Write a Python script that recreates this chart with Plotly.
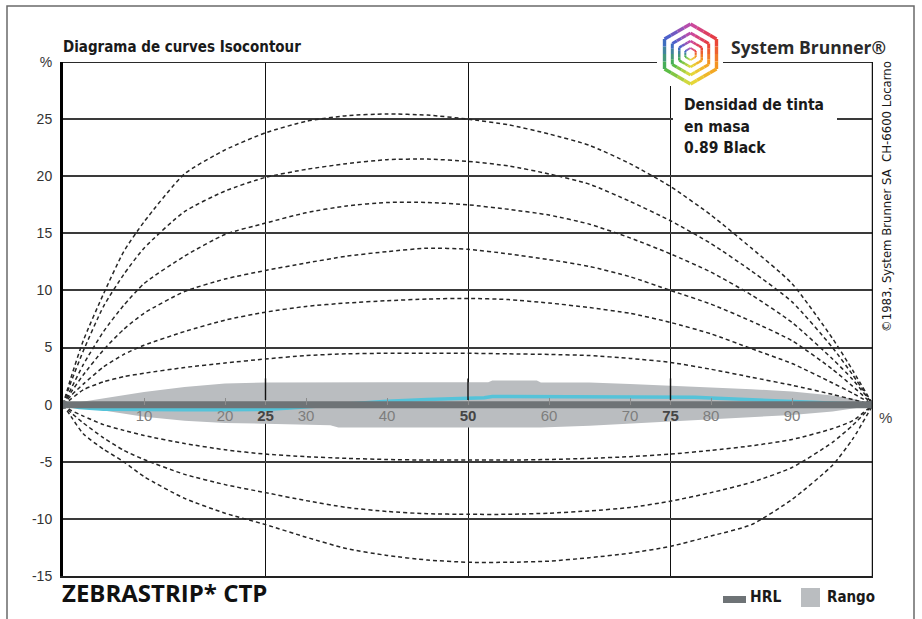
import math
import plotly.graph_objects as go

# ---------------- data ----------------
# Isocontour curves (deviation in % over tone value 0..100 %)
iso_x = [0, 1, 2.5, 5, 7.5, 10, 15, 20, 25, 30, 35, 40, 45, 50, 55, 60, 65, 70, 75, 80, 85, 90, 95, 97.5, 100]

iso_pos_a = [0, 2.4, 5.6, 9.7, 13.4, 16.0, 20.2, 22.3, 23.8, 24.8, 25.3, 25.45, 25.35, 25.0, 24.5, 23.7, 22.7, 21.1, 19.1, 16.6, 13.7, 10.6, 5.8, 3.0, 0]
iso_pos_b = [0, 2.0, 4.7, 8.6, 11.4, 13.7, 16.9, 18.7, 19.9, 20.6, 21.1, 21.45, 21.5, 21.3, 20.9, 20.2, 19.3, 17.8, 16.1, 14.1, 11.7, 9.0, 5.0, 2.6, 0]
iso_pos_c = [0, 1.4, 3.5, 6.4, 8.7, 10.6, 13.0, 14.9, 15.9, 16.8, 17.4, 17.7, 17.7, 17.5, 17.1, 16.6, 15.8, 14.6, 13.2, 11.6, 9.6, 7.2, 4.0, 2.2, 0]
iso_pos_d = [0, 1.1, 2.6, 4.8, 6.6, 8.0, 9.9, 11.0, 11.75, 12.4, 13.0, 13.4, 13.7, 13.6, 13.2, 12.7, 12.1, 11.2, 10.0, 8.8, 7.3, 5.6, 3.1, 1.6, 0]
iso_pos_e = [0, 0.8, 1.8, 3.3, 4.4, 5.2, 6.4, 7.4, 8.1, 8.6, 8.9, 9.1, 9.25, 9.3, 9.2, 8.9, 8.5, 8.0, 7.2, 6.2, 4.9, 3.6, 1.9, 1.0, 0]
iso_pos_f = [0, 0.5, 1.3, 2.0, 2.45, 2.75, 3.25, 3.65, 4.0, 4.3, 4.45, 4.5, 4.5, 4.5, 4.45, 4.4, 4.3, 4.05, 3.7, 3.1, 2.4, 1.7, 0.9, 0.45, 0]
iso_neg_a = [0, -0.5, -1.0, -1.75, -2.25, -2.7, -3.4, -3.95, -4.33, -4.55, -4.7, -4.8, -4.85, -4.85, -4.85, -4.8, -4.7, -4.55, -4.33, -4.0, -3.6, -3.05, -2.1, -1.4, 0]
iso_neg_b = [0, -0.7, -1.6, -2.9, -4.0, -4.8, -6.1, -7.0, -7.7, -8.4, -9.0, -9.35, -9.55, -9.6, -9.6, -9.5, -9.3, -9.0, -8.45, -7.7, -6.8, -5.5, -3.3, -1.8, 0]
iso_neg_c = [0, -1.05, -2.55, -3.9, -5.0, -6.3, -8.2, -9.5, -10.5, -11.6, -12.6, -13.2, -13.6, -13.8, -13.8, -13.7, -13.4, -13.0, -12.4, -11.5, -10.5, -8.3, -5.3, -3.0, 0]

# Tolerance range (Rango)
rango_x = [0, 5, 10, 15, 20, 25, 30, 33, 34, 40, 50, 52.5, 53, 58.5, 59, 65, 70, 75, 80, 85, 90, 95, 98, 100]
rango_hi = [0, 0.55, 1.1, 1.55, 1.85, 1.95, 1.97, 1.97, 1.97, 1.97, 1.97, 1.97, 2.12, 2.12, 1.95, 1.93, 1.8, 1.67, 1.5, 1.35, 1.15, 0.8, 0.45, 0]
rango_lo = [0, -0.5, -1.05, -1.4, -1.6, -1.7, -1.75, -1.8, -2.0, -2.0, -2.0, -2.0, -2.0, -2.0, -2.0, -1.85, -1.65, -1.45, -1.3, -1.1, -0.9, -0.6, -0.3, 0]

# Reference line (HRL)
hrl_x = [0, 100]
hrl_y = [0, 0]

# Measured curve
tvi_x = [0, 2, 5, 10, 15, 20, 25, 28, 30, 33, 36, 40, 45, 50, 52, 53, 60, 70, 75, 78, 80, 85, 90, 95, 100]
tvi_y = [0, -0.25, -0.4, -0.45, -0.45, -0.45, -0.42, -0.3, -0.2, 0.0, 0.15, 0.3, 0.45, 0.55, 0.6, 0.72, 0.72, 0.72, 0.72, 0.65, 0.58, 0.42, 0.28, 0.14, 0]

# Axis ticks
x_grid_vals = [25, 50, 75]
x_label_vals = [10, 20, 25, 30, 40, 50, 60, 70, 75, 80, 90]
y_tick_vals = [-15, -10, -5, 0, 5, 10, 15, 20, 25, 30]
y_tick_text = ["-15", "-10", "-5", "0", "5", "10", "15", "20", "25", "%"]

# Density note lines
note_lines = ["Densidad de tinta", "en masa", "0.89 Black"]

# ---------------- geometry helpers (pixel -> paper) ----------------
W, H = 922, 619
PL, PR, PT, PB = 63, 873, 62, 576


def px(X):
    return (X - PL) / (PR - PL)


def py(Y):
    return (PB - Y) / (PB - PT)


NARROW = "Liberation Sans Narrow, DejaVu Sans Condensed, Roboto, sans-serif"
REGULAR = "Liberation Sans, Arial, sans-serif"

fig = go.Figure()

# Tolerance band
fig.add_trace(go.Scatter(
    x=rango_x + rango_x[::-1], y=rango_hi + rango_lo[::-1],
    fill="toself", fillcolor="#babdc0", mode="lines", line=dict(width=0),
    hoverinfo="skip", name="Rango"))

# Isocontour curves
for curve in [iso_pos_a, iso_pos_b, iso_pos_c, iso_pos_d, iso_pos_e, iso_pos_f,
              iso_neg_a, iso_neg_b, iso_neg_c]:
    fig.add_trace(go.Scatter(
        x=iso_x, y=curve, mode="lines",
        line=dict(color="#262626", width=1.5, dash="4px,3px", shape="spline", smoothing=0.6),
        hoverinfo="skip"))

# HRL (bound to the secondary x axis that carries the 0-line labels)
fig.add_trace(go.Scatter(
    x=hrl_x, y=hrl_y, xaxis="x2", mode="lines+markers",
    line=dict(color="#6e7376", width=7), marker=dict(size=9, color="#6e7376"),
    hoverinfo="skip", name="HRL"))

# Measured curve
fig.add_trace(go.Scatter(
    x=tvi_x, y=tvi_y, mode="lines",
    line=dict(color="#55c3d9", width=3.5), hoverinfo="skip"))

label_text = []
for v in x_label_vals:
    if v in x_grid_vals:
        label_text.append("<span style='color:#454545'><b>%d</b></span>" % v)
    else:
        label_text.append(str(v))

shapes = []

# vertical grid segments visible through the upper half of the band
for v in x_grid_vals:
    shapes.append(dict(type="line", xref="x", yref="y", x0=v, x1=v, y0=0.4, y1=2.3,
                       line=dict(color="#111111", width=1.4), layer="above"))

# top and right frame of the plot
shapes.append(dict(type="line", xref="x", yref="y", x0=0, x1=100, y0=30, y1=30,
                   line=dict(color="#2a2a2a", width=2), layer="above"))
shapes.append(dict(type="line", xref="x", yref="y", x0=100, x1=100, y0=-15, y1=30,
                   line=dict(color="#111111", width=2.5), layer="above"))

# white areas behind the logo and the density note
shapes.append(dict(type="rect", xref="paper", yref="paper",
                   x0=px(657), x1=px(723), y0=py(86), y1=py(18),
                   fillcolor="white", line=dict(width=0), layer="above"))
shapes.append(dict(type="rect", xref="paper", yref="paper",
                   x0=px(673), x1=px(837), y0=py(165), y1=py(90),
                   fillcolor="white", line=dict(width=0), layer="above"))

# hexagon logo with a colour wheel outline
vertex_cols = [(200, 74, 168), (232, 58, 58), (245, 160, 32), (228, 222, 60), (73, 184, 72), (60, 100, 208)]


def lerp(c1, c2, t):
    return "rgb(%d,%d,%d)" % tuple(round(a + (b - a) * t) for a, b in zip(c1, c2))


cx, cy = 690.5, 54
for R, lw in [(30, 3.4), (21, 3.0), (13, 2.5), (6, 2.0)]:
    verts = []
    for i in range(6):
        a = math.radians(90 - 60 * i)
        verts.append((cx + R * math.cos(a), cy - R * math.sin(a)))
    for i in range(6):
        (x0, y0), (x1, y1) = verts[i], verts[(i + 1) % 6]
        c0, c1 = vertex_cols[i], vertex_cols[(i + 1) % 6]
        n = 4
        for k in range(n):
            t0, t1 = k / n, (k + 1) / n
            shapes.append(dict(
                type="line", xref="paper", yref="paper",
                x0=px(x0 + (x1 - x0) * t0), y0=py(y0 + (y1 - y0) * t0),
                x1=px(x0 + (x1 - x0) * t1), y1=py(y0 + (y1 - y0) * t1),
                line=dict(color=lerp(c0, c1, (t0 + t1) / 2), width=lw), layer="above"))

# legend swatches
shapes.append(dict(type="rect", xref="paper", yref="paper",
                   x0=px(723), x1=px(746), y0=py(603), y1=py(596),
                   fillcolor="#6e7376", line=dict(width=0)))
shapes.append(dict(type="rect", xref="paper", yref="paper",
                   x0=px(801), x1=px(820), y0=py(607), y1=py(588),
                   fillcolor="#babdc0", line=dict(width=0)))

# outer frame
shapes.append(dict(type="rect", xref="paper", yref="paper",
                   x0=px(7), x1=px(914), y0=py(660), y1=py(6),
                   line=dict(color="#6a6a6a", width=1.5), fillcolor="rgba(0,0,0,0)"))

annotations = [
    dict(text="<b>Diagrama de curves Isocontour</b>", x=px(61), y=py(47), xref="paper", yref="paper",
         xanchor="left", yanchor="middle", showarrow=False,
         font=dict(family=NARROW, size=15, color="#1a1a1a")),
    dict(text="<b>System Brunner®</b>", x=px(729), y=py(47), xref="paper", yref="paper",
         xanchor="left", yanchor="middle", showarrow=False,
         font=dict(family="Open Sans, sans-serif", size=17.5, color="#2a2a2a")),
    dict(text="©1983, System Brunner SA  CH-6600 Locarno", x=px(887), y=py(197),
         xref="paper", yref="paper", xanchor="center", yanchor="middle", textangle=-90,
         showarrow=False, font=dict(family=NARROW, size=13, color="#1a1a1a")),
    dict(text="%", x=px(886), y=-1.15, xref="paper", yref="y", xanchor="center", yanchor="middle",
         showarrow=False, font=dict(family=REGULAR, size=15, color="#444444")),
    dict(text="<b>ZEBRASTRIP* CTP</b>", x=px(60), y=py(592), xref="paper", yref="paper",
         xanchor="left", yanchor="middle", showarrow=False,
         font=dict(family="Open Sans, sans-serif", size=24, color="#111111")),
    dict(text="<b>HRL</b>", x=px(748), y=py(597), xref="paper", yref="paper",
         xanchor="left", yanchor="middle", showarrow=False,
         font=dict(family=NARROW, size=15.5, color="#1a1a1a")),
    dict(text="<b>Rango</b>", x=px(825), y=py(597), xref="paper", yref="paper",
         xanchor="left", yanchor="middle", showarrow=False,
         font=dict(family=NARROW, size=15, color="#1a1a1a")),
]

for line_text, yc in zip(note_lines, [105, 126.5, 148]):
    annotations.append(dict(text="<b>%s</b>" % line_text, x=px(682), y=py(yc),
                            xref="paper", yref="paper", xanchor="left", yanchor="middle",
                            showarrow=False, font=dict(family=NARROW, size=15.5, color="#1a1a1a")))

fig.update_layout(
    width=W, height=H,
    margin=dict(l=PL, r=W - PR, t=PT, b=H - PB),
    paper_bgcolor="white", plot_bgcolor="white",
    showlegend=False,
    xaxis=dict(range=[0, 100], tickvals=x_grid_vals, showticklabels=False, ticks="",
               showgrid=True, gridcolor="#111111", gridwidth=1.4, zeroline=False,
               showline=True, linecolor="#222222", linewidth=2, fixedrange=True),
    xaxis2=dict(range=[0, 100], overlaying="x", anchor="free", position=15 / 45, side="bottom",
                tickvals=x_label_vals, ticktext=label_text, ticks="inside", ticklen=7,
                tickwidth=1.3, tickcolor="#8c8c8c", showgrid=False, showline=False,
                zeroline=False, fixedrange=True,
                tickfont=dict(family=REGULAR, size=15, color="#7d7d7d")),
    yaxis=dict(range=[-15, 30], tickvals=y_tick_vals, ticktext=y_tick_text,
               showgrid=True, gridcolor="#3a3a3a", gridwidth=1.6, zeroline=False,
               showline=True, linecolor="#000000", linewidth=3,
               ticks="outside", ticklen=5, tickcolor="rgba(0,0,0,0)",
               tickfont=dict(family=REGULAR, size=14, color="#333333"), fixedrange=True),
    shapes=shapes,
    annotations=annotations,
)

fig.write_html("out.html")
